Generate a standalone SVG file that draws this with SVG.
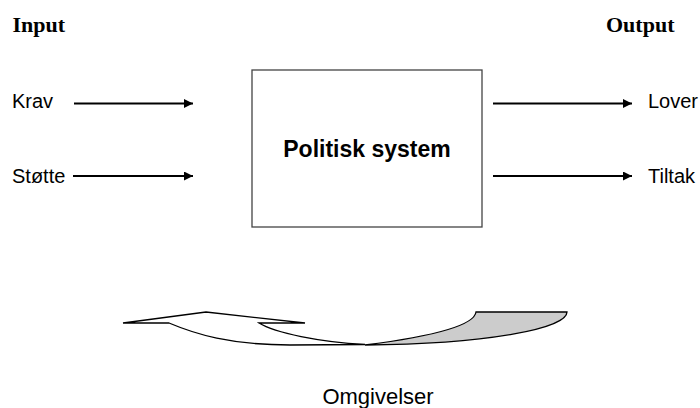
<svg xmlns="http://www.w3.org/2000/svg" width="700" height="408" viewBox="0 0 700 408">
  <defs>
    <marker id="ah" viewBox="0 0 10 10" refX="10" refY="5" markerWidth="4.5" markerHeight="4.5" orient="auto" markerUnits="strokeWidth">
      <path d="M0,0 L10,5 L0,10 Z" fill="#000"/>
    </marker>
  </defs>
  <style>
    .hdr { font-family: "Liberation Serif", "Times New Roman", serif; font-weight: bold; font-size: 22px; fill: #000; }
    .lbl { font-family: "Liberation Sans", Arial, sans-serif; font-size: 20px; fill: #000; }
    .conn { stroke: #000; stroke-width: 2; fill: none; marker-end: url(#ah); }
    .shape { stroke: #000; stroke-width: 1.3; stroke-linejoin: miter; }
  </style>
  <rect width="700" height="408" fill="#fff"/>

  <g id="headers">
    <text class="hdr" x="12.5" y="32">Input</text>
    <text class="hdr" x="606" y="32">Output</text>
  </g>

  <g id="system">
    <rect x="252" y="70" width="230" height="157" fill="#fff" stroke="#444" stroke-width="1.3"/>
    <text x="367" y="157" text-anchor="middle" font-family="Liberation Sans, Arial, sans-serif" font-weight="bold" font-size="23">Politisk system</text>
  </g>

  <g id="krav"><text class="lbl" x="12" y="108">Krav</text></g>
  <g id="stotte"><text class="lbl" x="12" y="183">Støtte</text></g>
  <g id="lover"><text class="lbl" x="648" y="108">Lover</text></g>
  <g id="tiltak"><text class="lbl" x="648" y="183">Tiltak</text></g>

  <g id="connectors">
    <line class="conn" x1="74" y1="103.5" x2="193" y2="103.5"/>
    <line class="conn" x1="73" y1="176" x2="193" y2="176"/>
    <line class="conn" x1="493" y1="103.5" x2="632" y2="103.5"/>
    <line class="conn" x1="493" y1="176" x2="632" y2="176"/>
  </g>

  <g id="feedback-arrow">
    <path class="shape" fill="#fff" d="M123,323 L206,312 L305,323 L259,323 C275,333 320,342 365,344.5 L290,345 C230,345 195,334 169,323 Z"/>
    <path class="shape" fill="#cccccc" d="M476,312 L567,312 C567,328 490,344 365,345 C420,338 474,328 476,312 Z"/>
  </g>

  <g id="omgivelser">
    <text x="378" y="404" text-anchor="middle" font-family="Liberation Sans, Arial, sans-serif" font-size="22">Omgivelser</text>
  </g>
</svg>
